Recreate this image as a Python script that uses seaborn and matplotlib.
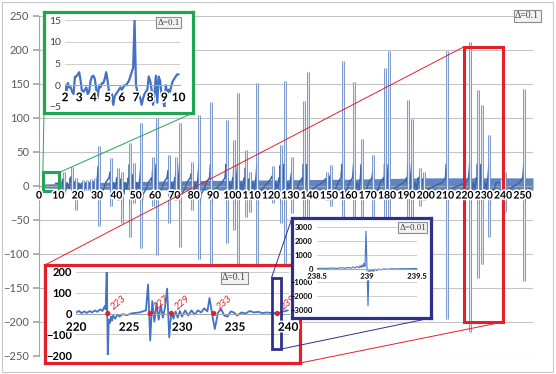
import numpy as np
import matplotlib
matplotlib.use("Agg")
import matplotlib.pyplot as plt
import matplotlib.patheffects as pe
from matplotlib.patches import Rectangle, ConnectionPatch
import seaborn as sns

# ---------------------------------------------------------------
# main series, step 0.1 : spikes (poles) near primes / prime powers
# ---------------------------------------------------------------
spike_t = [11, 13, 17, 19, 23, 25, 27, 29, 31,
           37, 41, 43, 47, 49, 53, 59, 61, 67, 71,
           73, 79, 83, 89, 97, 101, 103, 107, 109, 113,
           121, 125, 127, 131, 137, 139, 149, 151, 157, 163,
           167, 173, 179, 181, 191, 193, 197, 199, 211, 223,
           227, 229, 233, 239, 241, 251]
spike_up = [8, 20, 28, 12, 9, 9, 10, 12, 59,
            41, 26, 20, 63, 34, 92, 43, 100, 45, 43,
            92, 36, 104, 124, 97, 68, 137, 53, 20, 152,
            30, 60, 154, 43, 125, 167, 21, 31, 184, 153,
            69, 46, 174, 199, 126, 98, 27, 20, 198, 212,
            141, 119, 75, 10, 20, 143]
spike_dn = [-10, -12, -12, -35, -8, -6, -8, -15, -59,
            -30, -20, -55, -75, -25, -91, -30, -101, -55, -20,
            -89, -35, -108, -120, -84, -65, -130, -45, -38, -140,
            -25, -55, -150, -40, -120, -160, -20, -30, -175, -150,
            -60, -45, -170, -190, -120, -90, -30, -20, -195, -215,
            -135, -115, -75, -8, -38, -140]

# dense band between the spikes
band_t = [2, 40, 80, 120, 160, 200, 255.5]
band_hi = [3, 6, 8, 9, 10, 12, 12]
band_lo = [-3, -5, -6, -6, -6, -6, -6]

# shape of the band next to each pole (offset from pole, value)
ramp_dt = [-2.5, -0.8, -0.25, 0.25, 0.8, 2.5]
ramp_v = [5, 12, 32, -26, -12, -4]

# ---------------------------------------------------------------
# zoom 2..10, step 0.1 (green)
# ---------------------------------------------------------------
green_t = np.round(np.linspace(2, 10, 81), 1)
green_v = [0, -1.5, 0.5, -0.5, -0.5, -1.5, -2, 2, 2, 2.5,
           3, 1, -1.5, -1.5, -1, -0.5, -2, -1.5, 1, 2,
           2.2, 1.5, -1, -3, 0, -0.5, 0.5, 0.5, 1.5, 3,
           1, -1.5, -3.5, -2, -4.5, -2.5, -2, -1.5, -1, -0.5,
           -1, -0.5, 0, 0, 0.5, 1, 2, 3, 4, 15,
           0, -1.5, -2, -3, -4.5, -3, -2, -1.5, -1, 2,
           1, -1, -4.5, -2, 2.2, -4, 2, 1, -2, -3.5,
           -5, 0, -2, -1, -1.5, 0, 1, 1.5, 2, 2.5,
           2.5]

# ---------------------------------------------------------------
# zoom 220..240, step 0.1 (red)
# ---------------------------------------------------------------
red_t = [220.0, 220.3, 220.5, 220.8, 221.0, 221.3, 221.5, 221.8, 222.0, 222.3,
         222.5, 222.7, 222.8, 222.9, 223.0, 223.1, 223.2, 223.3, 223.4, 223.5,
         223.7, 223.9, 224.1, 224.4, 224.8, 225.2, 225.6, 226.0, 226.3, 226.6,
         226.8, 227.0, 227.2, 227.4, 227.6, 227.8, 228.0, 228.2, 228.4, 228.6,
         228.8, 229.0, 229.2, 229.4, 229.6, 229.8, 230.0, 230.3, 230.6, 230.9,
         231.2, 231.5, 231.8, 232.1, 232.4, 232.6, 232.9, 233.1, 233.4, 233.7,
         234.0, 234.3, 234.6, 234.9, 235.2, 235.6, 236.0, 236.4, 236.8, 237.2,
         237.6, 238.0, 238.5, 238.8, 239.0, 239.3, 239.6, 240.0]
red_v = [5, 12, 2, 10, 3, 12, 5, 15, 8, 20,
         12, 35, 20, 230, -200, -30, -45, -15, -35, -10,
         -25, -5, -15, -3, -8, 0, 3, 5, 10, 15,
         140, -130, 60, -40, 50, -30, 40, -20, 30, 120,
         -115, 10, -25, 10, -20, 12, -15, 15, -10, 15,
         -5, 15, 5, 25, 10, 75, -20, -75, 5, 20,
         -10, -15, 10, 5, -10, 5, 0, 12, 5, 8,
         2, 5, 2, 3, -2, 5, 10, 15]
prime_t = [223, 227, 229, 233, 239]
prime_lab = ["223", "227", "229", "233", "239"]

# ---------------------------------------------------------------
# zoom 238.5..239.5, step 0.01 (navy)
# ---------------------------------------------------------------
navy_t = [238.50, 238.55, 238.60, 238.65, 238.70, 238.74, 238.78, 238.81, 238.84, 238.86,
          238.88, 238.90, 238.92, 238.93, 238.94, 238.95, 238.96, 238.97, 238.98, 238.99,
          239.01, 239.02, 239.03, 239.04, 239.05, 239.06, 239.07, 239.08, 239.10, 239.12,
          239.14, 239.17, 239.20, 239.25, 239.30, 239.35, 239.40, 239.45, 239.50]
navy_v = [0, 20, 5, 35, 10, 55, 15, 80, 25, 110,
          35, 150, 50, 200, 70, 260, 100, 380, 150, 2700,
          -2700, -150, -380, -100, -260, -70, -200, -50, -150, -35,
          -100, -25, -60, -15, -30, -10, -15, -5, 0]

BLUE = "#4472c4"
GREEN = "#22a455"
RED = "#e3202a"
NAVY = "#2e2f8f"
GRID = "#cccccc"
AXC = "#a6a6a6"

sns.set_theme(style="white")
plt.rcParams['font.family'] = ['Lato', 'DejaVu Sans']
SERIF = ['Liberation Serif', 'DejaVu Serif']

fig = plt.figure(figsize=(5.56, 3.74), dpi=100)
fig.patch.set_facecolor("white")
fig.add_artist(Rectangle((0.004, 0.005), 0.991, 0.99, transform=fig.transFigure,
                         fill=False, ec="#c8c8c8", lw=0.8))

halo = [pe.withStroke(linewidth=2.4, foreground="white")]


def style_axes(a, xcol="black", ycol="#404040", xsize=7.5, ysize=7.5, ybold=False, xpad=2):
    a.set_facecolor("none")
    for s in ["top", "right"]:
        a.spines[s].set_visible(False)
    a.spines["left"].set_visible(False)
    a.spines["bottom"].set_position(("data", 0))
    a.spines["bottom"].set_color(AXC)
    a.spines["bottom"].set_linewidth(0.8)
    a.grid(axis="y", color=GRID, lw=0.7)
    a.grid(axis="x", visible=False)
    a.set_axisbelow(True)
    a.xaxis.set_zorder(9)
    a.tick_params(axis="x", length=0, pad=xpad, labelsize=xsize, labelcolor=xcol)
    a.tick_params(axis="y", length=0, pad=3, labelsize=ysize, labelcolor=ycol)
    for lbl in a.get_xticklabels():
        lbl.set_fontweight("bold")
        lbl.set_path_effects(halo)
    if ybold:
        for lbl in a.get_yticklabels():
            lbl.set_fontweight("bold")
    a.set_xlabel("")
    a.set_ylabel("")


def delta_box(a, x, y, txt, size=7):
    a.text(x, y, txt, transform=a.transAxes, ha="center", va="center",
           fontsize=size, family=SERIF, color="#404040", zorder=10,
           bbox=dict(boxstyle="square,pad=0.15", fc="#f2f2f2", ec="#8c8c8c", lw=0.8))


# ------------------------- main chart --------------------------
ax = fig.add_axes([39 / 556, 18 / 374, 494 / 556, 340 / 374])

ax.fill_between(band_t, band_lo, band_hi, color="#4f78bb", alpha=0.9, lw=0, zorder=2)

rx, ry = [], []
for t, up, dn in zip(spike_t, spike_up, spike_dn):
    for dt, v in zip(ramp_dt, ramp_v):
        rx.append(t + dt)
        ry.append(min(v, 0.5 * up) if v > 0 else max(v, 0.5 * dn))
order = np.argsort(rx)
sns.lineplot(x=np.array(rx)[order], y=np.array(ry)[order], ax=ax, sort=False,
             estimator=None, color="#3c66ad", lw=1.1, zorder=3)

ax.vlines(spike_t, spike_dn, spike_up, colors="#6a8cc6", lw=2.0, zorder=4)
ax.vlines(spike_t, spike_dn, spike_up, colors="#e4eaf4", lw=0.8, zorder=5)

ax.set_xlim(0, 255.5)
ax.set_ylim(-250, 250)
ax.set_xticks(range(0, 251, 10))
ax.set_yticks(range(-250, 251, 50))
style_axes(ax, xsize=7.5, ysize=8, ycol="#595959", xpad=4)
ax.spines["left"].set_visible(True)
ax.spines["left"].set_color(AXC)
ax.spines["left"].set_linewidth(0.8)
ax.tick_params(axis="y", length=4, color=AXC, direction="out", left=True)
ax.grid(axis="y", color="#c4c4c4", lw=0.8)
delta_box(ax, 0.988, 1.0, "Δ=0.1")

ax.add_patch(Rectangle((220, -200), 20, 405, fill=False, ec=RED, lw=2.2, zorder=6))
ax.add_patch(Rectangle((2, -8), 8.5, 28, fill=False, ec=GREEN, lw=2.2, zorder=6))

# ------------------------- green inset -------------------------
gbox = fig.add_axes([44 / 556, (374 - 113) / 374, 149 / 556, 101 / 374])
gbox.set_xticks([])
gbox.set_yticks([])
gbox.set_facecolor("white")
for s in gbox.spines.values():
    s.set_color(GREEN)
    s.set_linewidth(2.3)

ga = fig.add_axes([65 / 556, (374 - 107) / 374, 115 / 556, 87 / 374])
sns.lineplot(x=green_t, y=green_v, ax=ga, color=BLUE, lw=1.6, estimator=None, sort=False)
ga.set_xlim(2, 10.1)
ga.set_ylim(-5, 15)
ga.set_xticks(range(2, 11))
ga.set_yticks(range(-5, 16, 5))
style_axes(ga, xsize=8.5, ysize=7.5, xpad=5)
delta_box(ga, 0.9, 0.97, "Δ=0.1", size=6.5)

# -------------------------- red inset --------------------------
rbox = fig.add_axes([45 / 556, (374 - 363) / 374, 255 / 556, 98 / 374])
rbox.set_xticks([])
rbox.set_yticks([])
rbox.set_facecolor("white")
for s in rbox.spines.values():
    s.set_color(RED)
    s.set_linewidth(2.3)

ra = fig.add_axes([76 / 556, (374 - 355) / 374, 213 / 556, 83 / 374])
sns.lineplot(x=red_t, y=red_v, ax=ra, color=BLUE, lw=1.3, estimator=None, sort=False)
sns.scatterplot(x=prime_t, y=[0] * len(prime_t), ax=ra, color=RED, s=14,
                edgecolor="none", zorder=6)
for t, lab in zip(prime_t, prime_lab):
    ra.text(t + 0.15, 8, lab, rotation=40, color=RED, fontsize=7, style="italic",
            ha="left", va="bottom", zorder=7)
ra.set_xlim(220, 240.1)
ra.set_ylim(-200, 200)
ra.set_xticks(range(220, 241, 5))
ra.set_yticks(range(-200, 201, 100))
style_axes(ra, xsize=8.5, ysize=8, ycol="black", ybold=True, xpad=6)
delta_box(ra, 0.742, 0.93, "Δ=0.1", size=7)
ra.add_patch(Rectangle((238.45, -172), 0.85, 344, fill=False, ec=NAVY, lw=2.0, zorder=8))

# -------------------------- navy inset -------------------------
nbox = fig.add_axes([292 / 556, (374 - 318) / 374, 139 / 556, 100 / 374])
nbox.set_xticks([])
nbox.set_yticks([])
nbox.set_facecolor("white")
for s in nbox.spines.values():
    s.set_color(NAVY)
    s.set_linewidth(2.3)

na = fig.add_axes([317 / 556, (374 - 310) / 374, 100 / 556, 83 / 374])
sns.lineplot(x=navy_t, y=navy_v, ax=na, color=BLUE, lw=0.8, estimator=None, sort=False)
na.set_xlim(238.5, 239.5)
na.set_ylim(-3000, 3000)
na.set_xticks([238.5, 239, 239.5])
na.set_xticklabels(["238.5", "239", "239.5"])
na.set_yticks(range(-3000, 3001, 1000))
style_axes(na, xsize=5.5, ysize=5.5, ycol="black", ybold=True, xpad=3)
delta_box(na, 0.955, 0.99, "Δ=0.01", size=6.5)

# ------------------------- connectors --------------------------
links = [
    ((2, 20), ax, (0, 0), gbox, GREEN),
    ((10.5, 20), ax, (1, 0), gbox, GREEN),
    ((220, 205), ax, (0, 1), rbox, RED),
    ((240, -200), ax, (1, 0), rbox, RED),
    ((238.45, 172), ra, (0, 1), nbox, NAVY),
    ((239.3, -172), ra, (1, 0), nbox, NAVY),
]
for xyA, axA, xyB, axB, col in links:
    con = ConnectionPatch(xyA=xyA, coordsA="data", axesA=axA,
                          xyB=xyB, coordsB="axes fraction", axesB=axB,
                          color=col, lw=0.7)
    fig.add_artist(con)

plt.savefig("out.png", dpi=100, facecolor="white")
